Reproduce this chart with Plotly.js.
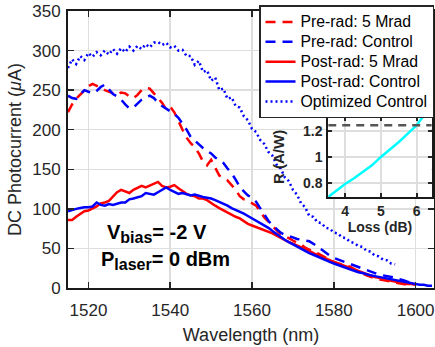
<!DOCTYPE html>
<html>
<head>
<meta charset="utf-8">
<script src="https://cdn.plot.ly/plotly-3.0.1.min.js"></script>
<style>html,body{margin:0;padding:0;background:#fff;}#chart{width:435px;height:347px;}</style>
</head>
<body>
<div id="chart"></div>
<script>
// ---- Data ----
const preRad5MradX = [1515,1516,1517,1518,1519,1520,1521,1522,1523,1524,1525,1526,1527,1528,1529,1530,1531,1532,1533,1534,1535,1536,1537,1538,1539,1540,1541,1542,1543,1544,1545,1546,1547,1548,1549,1550,1551,1552,1553,1554,1555,1556,1557,1558,1559,1560,1561,1562,1563,1564,1565,1566,1567,1568,1569,1570,1571,1572,1573,1574,1575,1576,1577,1578,1579,1580,1581,1582,1583,1584,1585,1586,1587,1588,1589,1590,1591,1592,1593,1594,1595,1596,1597,1598];
const preRad5MradY = [222,232,239,244,249,255,258,256,253,250,248,246,244,247,246,242,240,244,250,253,252,246,240,234,226,229,222,210,200,190,183,178,170,160,155,162,152,142,139,136,130,124,116,112,110,107,104,97,89,84,78,73,68,66,63,60,58,55,51,48,46,44,41,38,35,33,31,30,28,27,24,21,18,16,14,12,11,10,9,8,7,6,5,4];

const preRadControlX = [1515,1516,1517,1518,1519,1520,1521,1522,1523,1524,1525,1526,1527,1528,1529,1530,1531,1532,1533,1534,1535,1536,1537,1538,1539,1540,1541,1542,1543,1544,1545,1546,1547,1548,1549,1550,1551,1552,1553,1554,1555,1556,1557,1558,1559,1560,1561,1562,1563,1564,1565,1566,1567,1568,1569,1570,1571,1572,1573,1574,1575,1576,1577,1578,1579,1580,1581,1582,1583,1584,1585,1586,1587,1588,1589,1590,1591,1592,1593,1594,1595,1596,1597,1598,1599,1600];
const preRadControlY = [243,240,239,244,250,248,246,249,254,257,251,245,242,238,232,227,228,233,238,241,243,240,234,230,227,224,220,215,208,200,191,186,181,177,173,170,165,161,158,151,145,137,128,122,117,114,109,101,93,85,79,74,70,67,65,64,62,61,60,59,56,52,49,45,41,38,36,34,33,31,28,26,25,23,21,19,17,16,15,14,13,11,10,8,7,6];

const postRad5MradX = [1515,1516,1517,1518,1519,1520,1521,1522,1523,1524,1525,1526,1527,1528,1529,1530,1531,1532,1533,1534,1535,1536,1537,1538,1539,1540,1541,1542,1543,1544,1545,1546,1547,1548,1549,1550,1551,1552,1553,1554,1555,1556,1557,1558,1559,1560,1561,1562,1563,1564,1565,1566,1567,1568,1569,1570,1571,1572,1573,1574,1575,1576,1577,1578,1579,1580,1581,1582,1583,1584,1585,1586,1587,1588,1589,1590,1591,1592,1593,1594,1595,1596,1597,1598,1599,1600];
const postRad5MradY = [86,86,90,93,97,98,100,103,107,108,110,116,121,124,122,120,124,127,129,127,129,131,134,129,127,128,130,126,122,119,117,116,113,113,111,107,104,101,98,96,92,90,88,84,81,79,77,75,74,71,69,66,63,61,58,56,54,51,49,47,44,42,40,37,35,33,31,29,27,25,23,21,19,17,15,14,13,11,10,9,8,7,6,5,5,4];

const postRadControlX = [1515,1516,1517,1518,1519,1520,1521,1522,1523,1524,1525,1526,1527,1528,1529,1530,1531,1532,1533,1534,1535,1536,1537,1538,1539,1540,1541,1542,1543,1544,1545,1546,1547,1548,1549,1550,1551,1552,1553,1554,1555,1556,1557,1558,1559,1560,1561,1562,1563,1564,1565,1566,1567,1568,1569,1570,1571,1572,1573,1574,1575,1576,1577,1578,1579,1580,1581,1582,1583,1584,1585,1586,1587,1588,1589,1590,1591,1592,1593,1594,1595,1596,1597,1598,1599,1600,1601,1602,1603,1604];
const postRadControlY = [97,99,100,101,102,102,103,108,105,104,106,105,107,108,108,112,113,115,116,120,119,118,121,124,127,124,121,119,120,118,117,118,116,115,114,113,111,109,107,104,101,99,97,94,91,88,86,83,80,76,72,68,65,61,58,55,52,49,47,44,42,40,37,35,33,31,29,27,25,23,22,20,19,17,16,15,14,13,12,11,10,9,8,7,6,5,4,4,3,3];

const optimizedControlX = [1515,1516,1517,1518,1519,1520,1521,1522,1523,1524,1525,1526,1527,1528,1529,1530,1531,1532,1533,1534,1535,1536,1537,1538,1539,1540,1541,1542,1543,1544,1545,1546,1547,1548,1549,1550,1551,1552,1553,1554,1555,1556,1557,1558,1559,1560,1561,1562,1563,1564,1565,1566,1567,1568,1569,1570,1571,1572,1573,1574,1575,1576,1577,1578,1579,1580,1581,1582,1583,1584,1585,1586,1587,1588,1589,1590,1591,1592,1593,1594,1595];
const optimizedControlY = [278,289,283,293,288,297,292,298,294,300,295,302,296,303,298,305,300,306,302,308,304,310,311,307,310,304,306,300,301,293,293,282,287,273,275,262,266,250,252,239,241,230,228,217,212,201,197,187,182,172,167,156,151,140,135,124,118,107,102,91,90,83,82,76,75,70,69,64,63,58,57,53,52,47,46,41,40,36,35,31,30];

// Inset: responsivity vs loss
const insetLoss = [3.53,3.75,4.0,4.25,4.5,4.75,5.0,5.25,5.5,5.75,6.0,6.17];
const insetR    = [0.69,0.74,0.79,0.835,0.885,0.935,1.0,1.055,1.115,1.18,1.245,1.31];
const insetRefX = [3.53,6.42];
const insetRefY = [1.245,1.245];

const seriesNames = ['Pre-rad: 5 Mrad','Pre-rad: Control','Post-rad: 5 Mrad','Post-rad: Control','Optimized Control'];
const xTicks = [1520,1540,1560,1580,1600];
const yTicks = [0,50,100,150,200,250,300,350];
const insetXTicks = [4,5,6];
const insetYTicks = [0.8,1,1.2];
const insetYTickText = ['0.8','1','1.2'];

// ---- Traces ----
const RED = '#ff0000', BLUE = '#0000ff';
const big = s => '<span style="font-size:15.8px">' + s + '</span>';
const traces = [
  {x: preRad5MradX, y: preRad5MradY, name: big(seriesNames[0]), mode:'lines', line:{color:RED, width:2.5, dash:'10px,7px'}},
  {x: preRadControlX, y: preRadControlY, name: big(seriesNames[1]), mode:'lines', line:{color:BLUE, width:2.5, dash:'10px,7px'}},
  {x: postRad5MradX, y: postRad5MradY, name: big(seriesNames[2]), mode:'lines', line:{color:RED, width:2.5}},
  {x: postRadControlX, y: postRadControlY, name: big(seriesNames[3]), mode:'lines', line:{color:BLUE, width:2.5}},
  {x: optimizedControlX, y: optimizedControlY, name: big(seriesNames[4]), mode:'lines', line:{color:BLUE, width:2.5, dash:'2px,3px'}},
  {x: insetLoss, y: insetR, xaxis:'x2', yaxis:'y2', mode:'lines', showlegend:false, line:{color:'#00ffff', width:2.5}},
  {x: insetRefX, y: insetRefY, xaxis:'x2', yaxis:'y2', mode:'lines', showlegend:false, line:{color:'#555555', width:2.5, dash:'8px,6px'}}
];

const axCommon = {
  ticks:'inside', ticklen:6, tickwidth:1.5, tickcolor:'#262626',
  showline:true, linewidth:2, linecolor:'#1a1a1a', mirror:'allticks',
  showgrid:true, gridcolor:'#dedede', gridwidth:1.5, zeroline:false
};

const layout = {
  width:435, height:347,
  margin:{l:68, r:1, t:11, b:59},
  paper_bgcolor:'#ffffff', plot_bgcolor:'#ffffff',
  font:{family:'Arial, "Liberation Sans", sans-serif', size:17, color:'#262626'},
  showlegend:true,
  xaxis: Object.assign({}, axCommon, {
    range:[1515,1604.5], tickvals:xTicks, ticklabelstandoff:6,
    title:{text:'Wavelength (nm)', font:{size:18, color:'#262626'}, standoff:9}
  }),
  yaxis: Object.assign({}, axCommon, {
    range:[0,350], tickvals:yTicks, ticklabelstandoff:2,
    title:{text:'DC Photocurrent (<i>μ</i>A)', font:{size:18, color:'#262626'}, standoff:6}
  }),
  xaxis2: Object.assign({}, axCommon, {
    domain:[0.711,0.994], anchor:'y2', range:[3.53,6.42], tickvals:insetXTicks,
    ticklen:4, linewidth:2,
    tickfont:{size:14, weight:'bold', color:'#262626'}, ticklabelstandoff:0,
    title:{text:'Loss (dB)', font:{size:14, weight:'bold', color:'#262626'}, standoff:2}
  }),
  yaxis2: Object.assign({}, axCommon, {
    domain:[0.3285,0.618], anchor:'x2', range:[0.69,1.31], tickvals:insetYTicks, ticktext:insetYTickText,
    ticklen:4, linewidth:2,
    tickfont:{size:14, weight:'bold', color:'#262626'}, ticklabelstandoff:1,
    title:{text:'R (A/W)', font:{size:15, weight:'bold', color:'#262626'}, standoff:15}
  }),
  legend:{
    x:1, y:1.02, xanchor:'right', yanchor:'top',
    bgcolor:'#ffffff', bordercolor:'#262626', borderwidth:1.5,
    font:{size:13, color:'#000000'}, tracegroupgap:0
  },
  annotations:[
    {xref:'paper', yref:'paper', x:0.1, y:0.195, xanchor:'left', yanchor:'middle', showarrow:false,
     text:'<b>V<sub><span style="font-size:16px">bias</span></sub>= -2 V</b>', font:{size:20, color:'#000000'}},
    {xref:'paper', yref:'paper', x:0.085, y:0.1, xanchor:'left', yanchor:'middle', showarrow:false,
     text:'<b>P<sub><span style="font-size:16px">laser</span></sub>= 0 dBm</b>', font:{size:20, color:'#000000'}}
  ]
};

Plotly.newPlot('chart', traces, layout, {staticPlot:true, displayModeBar:false});
</script>
</body>
</html>
